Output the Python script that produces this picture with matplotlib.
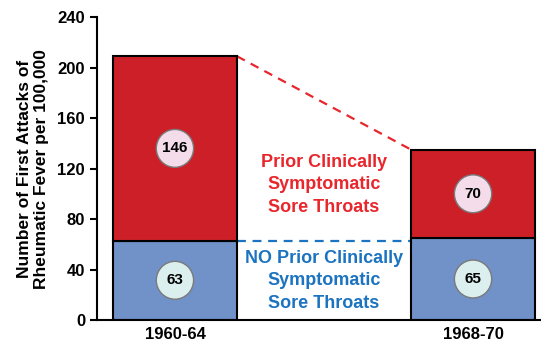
#!/usr/bin/env python3
# -*- coding: utf-8 -*-

import matplotlib
matplotlib.use('Agg')
import matplotlib.pyplot as plt
from matplotlib.patches import Ellipse

plt.rcParams['font.family'] = ['Liberation Sans', 'DejaVu Sans']
plt.rcParams['font.weight'] = 'bold'

periods = ['1960-64', '1968-70']
no_prior = [63, 65]      # no prior clinically symptomatic sore throat
prior = [146, 70]        # prior clinically symptomatic sore throat
yticks = [0, 40, 80, 120, 160, 200, 240]

RED = '#cc1f27'
BLUE = '#7191c9'
RED_TXT = '#e8262c'
BLUE_TXT = '#1c73c0'


def main():
	fig = plt.figure(figsize=(5.41, 3.49), dpi=100)
	ax = fig.add_axes([0.179, 0.083, 0.821, 0.868])

	x = [0, 1]
	w = 0.416
	ax.bar(x, no_prior, width=w, color=BLUE, edgecolor='black', linewidth=1.5, zorder=2)
	ax.bar(x, prior, width=w, bottom=no_prior, color=RED, edgecolor='black', linewidth=1.5, zorder=2)

	# value bubbles in the middle of each segment
	ew = 0.125
	eh = 30
	for i in range(len(x)):
		yc = no_prior[i] / 2
		ax.add_patch(Ellipse((x[i], yc), ew, eh, facecolor='#dcefef', edgecolor='#7a7a7a', lw=1, zorder=3))
		ax.text(x[i], yc, str(no_prior[i]), ha='center', va='center', fontsize=11, fontweight='bold', zorder=4)
		yc = no_prior[i] + prior[i] / 2
		ax.add_patch(Ellipse((x[i], yc), ew, eh, facecolor='#f4dcea', edgecolor='#7a7a7a', lw=1, zorder=3))
		ax.text(x[i], yc, str(prior[i]), ha='center', va='center', fontsize=11, fontweight='bold', zorder=4)

	# dashed connectors between the bars
	tot = [no_prior[i] + prior[i] for i in range(len(x))]
	ax.plot([x[0] + w / 2, x[1] - w / 2], [tot[0], tot[1]], color=RED_TXT, ls=(0, (4, 3)), lw=1.6, zorder=1)
	ax.plot([x[0] + w / 2, x[1] - w / 2], [no_prior[0], no_prior[0]], color=BLUE_TXT, ls=(0, (4, 3)), lw=1.6, zorder=1)

	ax.text(0.5, 107, 'Prior Clinically\nSymptomatic\nSore Throats', ha='center', va='center',
			color=RED_TXT, fontsize=13, fontweight='bold', linespacing=1.4)
	ax.text(0.5, 31, 'NO Prior Clinically\nSymptomatic\nSore Throats', ha='center', va='center',
			color=BLUE_TXT, fontsize=13, fontweight='bold', linespacing=1.4)

	ax.set_xlim(-0.262, 1.228)
	ax.set_ylim(0, 240)
	ax.set_yticks(yticks)
	ax.set_xticks(x)
	ax.set_xticklabels(periods, fontsize=12, fontweight='bold')
	ax.tick_params(axis='y', labelsize=12, width=1.5, length=5)
	ax.tick_params(axis='x', length=0, pad=5)
	for lbl in ax.get_yticklabels():
		lbl.set_fontweight('bold')
	ax.set_ylabel('Number of First Attacks of\nRheumatic Fever per 100,000', fontsize=12.5,
				  fontweight='bold', linespacing=1.2, labelpad=6)

	ax.spines['top'].set_visible(False)
	ax.spines['right'].set_visible(False)
	ax.spines['left'].set_linewidth(1.5)
	ax.spines['bottom'].set_linewidth(1.5)

	fig.savefig('out.png', dpi=100)


if __name__ == '__main__':
	main()
